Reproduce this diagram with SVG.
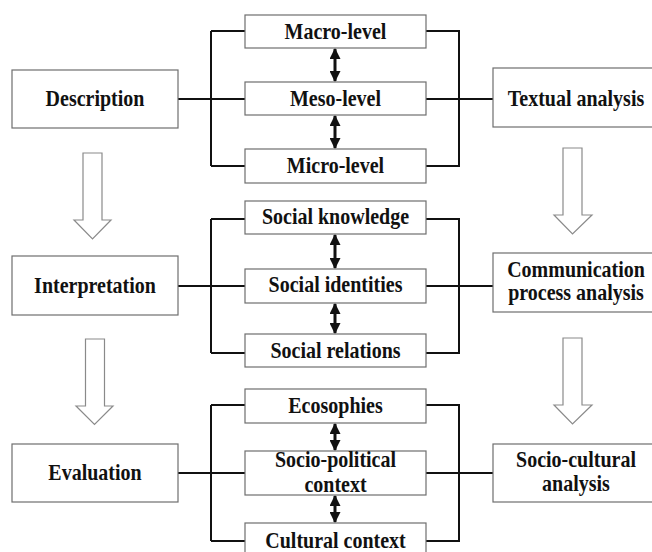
<svg xmlns="http://www.w3.org/2000/svg" width="652" height="552" viewBox="0 0 652 552">
<style>
.box{fill:#fff;stroke:#6e6e6e;stroke-width:1.2}
.t{font-family:"Liberation Serif","Times New Roman",serif;font-weight:bold;font-size:20px;fill:#111;text-anchor:middle}
.ln{stroke:#111;stroke-width:2;fill:none}
.da{stroke:#111;stroke-width:3;fill:none;marker-start:url(#ah);marker-end:url(#ah)}
.blk{fill:#fff;stroke:#8a8a8a;stroke-width:1.2}
</style>
<defs>
<marker id="ah" viewBox="0 0 10 10" refX="9" refY="5" markerWidth="11" markerHeight="11" markerUnits="userSpaceOnUse" orient="auto-start-reverse">
<path d="M0,0 L10,5 L0,10 Z" fill="#111"/>
</marker>
</defs>
<rect width="652" height="552" fill="#fff"/>

<g id="connectors">
<path class="ln" d="M178,99 H245 M211,31 V166 M211,31 H245 M211,166 H245"/>
<path class="ln" d="M426,31 H459 V166 H426 M426,99 H493"/>
<path class="ln" d="M178,286 H245 M211,219 V353 M211,219 H245 M211,353 H245"/>
<path class="ln" d="M426,219 H459 V353 H426 M426,286 H493"/>
<path class="ln" d="M178,473 H245 M211,405 V541 M211,405 H245 M211,541 H245"/>
<path class="ln" d="M426,405 H459 V541 H426 M426,473 H493"/>
<line class="da" x1="335" y1="49" x2="335" y2="81"/>
<line class="da" x1="335" y1="116" x2="335" y2="148"/>
<line class="da" x1="335" y1="235" x2="335" y2="268"/>
<line class="da" x1="335" y1="304" x2="335" y2="333"/>
<line class="da" x1="335" y1="424" x2="335" y2="450"/>
<line class="da" x1="335" y1="496" x2="335" y2="522"/>
<polygon class="blk" points="83,153 102,153 102,220 111,220 92.5,239 74,220 83,220"/>
<polygon class="blk" points="85.5,339 104.5,339 104.5,406 113,406 94.5,424.5 76,406 85.5,406"/>
<polygon class="blk" points="563,148 582,148 582,215 592,215 572.5,234 554,215 563,215"/>
<polygon class="blk" points="563,338 582,338 582,405 592,405 572.5,424 554,405 563,405"/>
</g>

<g id="description"><rect class="box" x="12" y="70" width="166" height="58"/><text class="t" transform="translate(95,106) scale(1,1.14)">Description</text></g>
<g id="interpretation"><rect class="box" x="12" y="256" width="166" height="59"/><text class="t" transform="translate(95,292.5) scale(1,1.14)">Interpretation</text></g>
<g id="evaluation"><rect class="box" x="12" y="444" width="166" height="58"/><text class="t" transform="translate(95,480) scale(1,1.14)">Evaluation</text></g>

<g id="macro"><rect class="box" x="245" y="15" width="181" height="33"/><text class="t" transform="translate(335.5,38.5) scale(1,1.14)">Macro-level</text></g>
<g id="meso"><rect class="box" x="245" y="82" width="181" height="33"/><text class="t" transform="translate(335.5,106) scale(1,1.14)">Meso-level</text></g>
<g id="micro"><rect class="box" x="245" y="149" width="181" height="34"/><text class="t" transform="translate(335.5,172.5) scale(1,1.14)">Micro-level</text></g>

<g id="social-knowledge"><rect class="box" x="245" y="201" width="181" height="33"/><text class="t" transform="translate(335.5,224) scale(1,1.14)">Social knowledge</text></g>
<g id="social-identities"><rect class="box" x="245" y="269" width="181" height="34"/><text class="t" transform="translate(335.5,292) scale(1,1.14)">Social identities</text></g>
<g id="social-relations"><rect class="box" x="245" y="334" width="181" height="33"/><text class="t" transform="translate(335.5,357.5) scale(1,1.14)">Social relations</text></g>

<g id="ecosophies"><rect class="box" x="245" y="389" width="181" height="34"/><text class="t" transform="translate(335.5,412.5) scale(1,1.14)">Ecosophies</text></g>
<g id="socio-political"><rect class="box" x="245" y="451" width="181" height="44"/><text class="t" transform="translate(335.5,467) scale(1,1.14)">Socio-political</text><text class="t" transform="translate(335.5,492) scale(1,1.14)">context</text></g>
<g id="cultural"><rect class="box" x="245" y="523" width="181" height="36"/><text class="t" transform="translate(335.5,548) scale(1,1.14)">Cultural context</text></g>

<g id="textual"><rect class="box" x="493" y="68" width="166" height="59"/><text class="t" transform="translate(576,105.5) scale(1,1.14)">Textual analysis</text></g>
<g id="communication"><rect class="box" x="493" y="253" width="166" height="59"/><text class="t" transform="translate(576,277) scale(1,1.14)">Communication</text><text class="t" transform="translate(576,300) scale(1,1.14)">process analysis</text></g>
<g id="socio-cultural"><rect class="box" x="493" y="444" width="166" height="58"/><text class="t" transform="translate(576,467) scale(1,1.14)">Socio-cultural</text><text class="t" transform="translate(576,491) scale(1,1.14)">analysis</text></g>
</svg>
